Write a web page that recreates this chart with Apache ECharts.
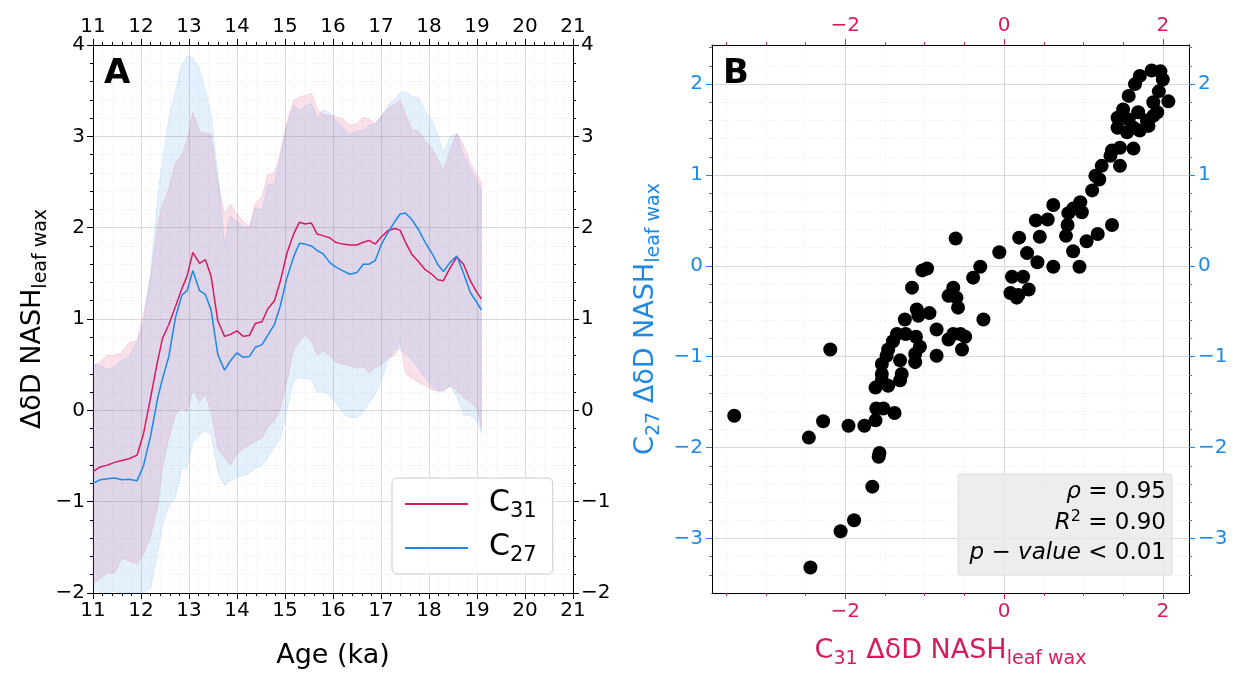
<!DOCTYPE html>
<html>
<head>
<meta charset="utf-8">
<script src="https://cdn.jsdelivr.net/npm/echarts@6/dist/echarts.min.js"></script>
<style>
html, body { margin: 0; padding: 0; background: #fff; }
#chart { width: 1245px; height: 674px; }
</style>
</head>
<body>
<div id="chart"></div>
<script>
// ---- panel A data (age in ka) ----
const ages = [11.0, 11.15, 11.3, 11.45, 11.6, 11.75, 11.92, 12.05, 12.2, 12.35, 12.45, 12.58, 12.72, 12.85, 12.96, 13.08, 13.22, 13.34, 13.46, 13.6,
  13.74, 13.86, 14.0, 14.13, 14.26, 14.38, 14.52, 14.64, 14.78, 14.9, 15.04, 15.18, 15.3, 15.42, 15.55, 15.67, 15.8, 15.93, 16.05, 16.2,
  16.35, 16.5, 16.63, 16.75, 16.88, 17.01, 17.15, 17.29, 17.4, 17.51, 17.64, 17.78, 17.92, 18.06, 18.18, 18.3, 18.44, 18.58, 18.72, 18.86,
  19.0, 19.09];
const c31Mean = [-0.67, -0.62, -0.60, -0.57, -0.55, -0.53, -0.49, -0.26, 0.14, 0.55, 0.79, 0.94, 1.14, 1.33, 1.47, 1.73, 1.61, 1.65, 1.47, 0.98,
  0.81, 0.83, 0.87, 0.81, 0.82, 0.95, 0.97, 1.11, 1.20, 1.41, 1.72, 1.93, 2.06, 2.04, 2.05, 1.93, 1.91, 1.89, 1.84, 1.82,
  1.81, 1.81, 1.84, 1.86, 1.82, 1.90, 1.97, 1.99, 1.97, 1.84, 1.71, 1.63, 1.54, 1.49, 1.43, 1.42, 1.56, 1.68, 1.60, 1.42,
  1.29, 1.22];
const c31Upper = [0.49, 0.53, 0.60, 0.60, 0.63, 0.74, 0.77, 1.05, 1.45, 2.05, 2.26, 2.42, 2.71, 2.79, 2.96, 3.26, 3.05, 3.03, 3.02, 2.50,
  2.15, 2.26, 2.15, 2.07, 2.01, 2.26, 2.34, 2.58, 2.60, 2.81, 3.16, 3.39, 3.43, 3.45, 3.47, 3.30, 3.24, 3.23, 3.22, 3.19,
  3.12, 3.14, 3.21, 3.19, 3.14, 3.22, 3.31, 3.35, 3.39, 3.24, 3.07, 3.06, 2.95, 2.87, 2.75, 2.63, 2.85, 3.03, 2.91, 2.71,
  2.58, 2.50];
const c31Lower = [-1.90, -1.84, -1.78, -1.78, -1.62, -1.65, -1.68, -1.58, -1.38, -1.05, -0.62, -0.30, -0.05, 0.03, -0.02, 0.22, 0.09, 0.18, -0.02, -0.42,
  -0.52, -0.60, -0.48, -0.42, -0.38, -0.34, -0.30, -0.19, -0.11, 0.01, 0.32, 0.67, 0.75, 0.83, 0.75, 0.61, 0.65, 0.60, 0.53, 0.51,
  0.49, 0.46, 0.48, 0.41, 0.47, 0.50, 0.57, 0.60, 0.75, 0.40, 0.35, 0.31, 0.27, 0.23, 0.21, 0.22, 0.27, 0.22, 0.14, 0.09,
  0.02, -0.19];
const c27Mean = [-0.80, -0.76, -0.75, -0.74, -0.76, -0.755, -0.77, -0.61, -0.28, 0.14, 0.35, 0.59, 1.02, 1.26, 1.31, 1.53, 1.31, 1.27, 1.10, 0.61,
  0.44, 0.54, 0.63, 0.58, 0.59, 0.69, 0.72, 0.82, 0.94, 1.14, 1.45, 1.68, 1.83, 1.82, 1.80, 1.75, 1.71, 1.62, 1.57, 1.53,
  1.49, 1.51, 1.60, 1.60, 1.64, 1.82, 1.95, 2.07, 2.15, 2.16, 2.09, 1.98, 1.84, 1.72, 1.60, 1.52, 1.62, 1.69, 1.50, 1.29,
  1.18, 1.10];
const c27Upper = [0.51, 0.49, 0.45, 0.48, 0.55, 0.59, 0.75, 0.95, 1.50, 2.35, 2.75, 3.20, 3.50, 3.78, 3.88, 3.86, 3.74, 3.51, 3.24, 2.60,
  1.82, 2.13, 2.07, 2.01, 2.00, 2.22, 2.19, 2.47, 2.48, 2.77, 3.12, 3.34, 3.29, 3.33, 3.36, 3.20, 3.29, 3.26, 3.18, 3.10,
  3.02, 3.06, 3.06, 3.12, 3.14, 3.22, 3.35, 3.41, 3.48, 3.49, 3.44, 3.42, 3.28, 3.18, 3.02, 2.82, 3.00, 3.03, 2.80, 2.65,
  2.50, 2.42];
const c27Lower = [-1.96, -1.99, -2.00, -1.98, -2.03, -2.05, -2.10, -2.15, -1.95, -1.55, -1.25, -1.05, -0.95, -0.64, -0.63, -0.35, -0.27, -0.23, -0.26, -0.67,
  -0.83, -0.77, -0.73, -0.71, -0.69, -0.63, -0.61, -0.52, -0.40, -0.32, 0.01, 0.32, 0.36, 0.35, 0.34, 0.20, 0.20, 0.16, 0.09, -0.02,
  -0.08, -0.08, -0.02, 0.08, 0.18, 0.33, 0.55, 0.66, 0.67, 0.62, 0.55, 0.46, 0.36, 0.26, 0.22, 0.20, 0.27, 0.15, -0.05, -0.06,
  -0.12, -0.25];

// ---- panel B data ----
const scatterC31 = [-3.40, -2.44, -2.06, -1.89, -1.66, -1.58, -1.57, -2.46, -2.28, -1.96, -1.76, -2.19, -1.62, -1.61, -1.52, -1.38, -1.62, -1.54, -1.46, -1.31,
  -1.29, -1.54, -1.54, -1.48, -1.46, -1.31, -1.40, -1.35, -1.24, -1.25, -1.11, -1.06, -1.12, -1.12, -1.10, -1.08, -0.94, -0.85, -0.85, -0.70,
  -0.60, -0.97, -1.03, -1.16, -0.70, -0.64, -0.58, -0.30, -0.39, -0.61, -0.06, 0.10, 0.24, 0.08, 0.18, 0.31, 0.16, -0.26, -0.64, -0.55,
  -0.49, -0.53, 0.19, 0.29, 0.42, 0.40, 0.55, 0.45, 0.62, 0.62, 0.78, 0.80, 0.81, 0.87, 0.96, 0.98, 0.87, 0.95, 1.04, 1.18,
  1.36, 1.11, 1.20, 1.15, 1.23, 1.34, 1.46, 1.46, 1.63, 1.36, 1.43, 1.43, 1.50, 1.57, 1.65, 1.71, 1.86, 1.97, 2.00, 1.95,
  2.07, 1.88, 1.69, 1.57, 1.63, 1.71, 1.82, 1.93, 1.80, 1.88, 1.55];
const scatterC27 = [-1.65, -3.32, -2.92, -2.80, -2.43, -2.10, -2.06, -1.89, -1.71, -1.76, -1.76, -0.92, -1.70, -1.57, -1.57, -1.62, -1.34, -1.26, -1.32, -1.26,
  -1.19, -1.19, -1.08, -0.99, -0.92, -1.04, -0.83, -0.75, -0.75, -0.59, -0.78, -0.89, -0.97, -1.06, -0.48, -0.55, -0.52, -0.70, -0.99, -0.81,
  -0.35, -0.03, -0.05, -0.24, -0.33, -0.24, -0.46, -0.01, -0.13, 0.30, 0.15, -0.12, -0.12, -0.30, -0.32, -0.26, -0.35, -0.59, -0.75, -0.75,
  -0.78, -0.92, 0.31, 0.14, 0.04, 0.50, 0.51, 0.32, 0.67, -0.01, 0.33, 0.45, 0.58, 0.63, 0.70, 0.59, 0.16, -0.01, 0.27, 0.35,
  0.45, 0.83, 0.95, 0.99, 1.10, 1.21, 1.30, 1.10, 1.29, 1.27, 1.52, 1.63, 1.72, 1.87, 2.00, 2.09, 2.15, 2.14, 2.05, 1.92,
  1.81, 1.80, 1.69, 1.61, 1.52, 1.49, 1.54, 1.69, 1.60, 1.65, 1.47];

// ---- tick values for panel B ----
const bMajorX = [-2, 0, 2];
const bMinorX = [-3.5, -3, -2.5, -1.5, -1, -0.5, 0.5, 1, 1.5];
const bMajorY = [-3, -2, -1, 0, 1, 2];
const bMinorY = [-3.4, -3.2, -2.8, -2.6, -2.4, -2.2, -1.8, -1.6, -1.4, -1.2, -0.8, -0.6, -0.4, -0.2,
  0.2, 0.4, 0.6, 0.8, 1.2, 1.4, 1.6, 1.8, 2.2, 2.4];

const PINK = '#d81b60';
const BLUE = '#1e88e5';
const FONT = 'DejaVu Sans';
const minus = v => (v < 0 ? '\u2212' + Math.abs(v) : String(v));

const majorGrid = { show: true, lineStyle: { color: '#dadada', width: 1 } };
const minorGrid = { show: true, lineStyle: { color: '#ebebeb', width: 1, type: [1, 2] } };
const subRich = color => ({
  a: { fontSize: 27, color: color, fontFamily: FONT, lineHeight: 30, verticalAlign: 'top' },
  s: { fontSize: 19, color: color, fontFamily: FONT, lineHeight: 20, padding: [13, 0, 0, 0], verticalAlign: 'top' }
});

function axisA(pos, opts) {
  const ax = {
    gridIndex: 0, type: 'value', position: pos,
    axisLine: { show: true, onZero: false, lineStyle: { color: '#000', width: 1 } },
    axisTick: { show: true, length: 6, lineStyle: { color: '#000' } },
    minorTick: { show: true, splitNumber: 5, length: 3, lineStyle: { color: '#000' } },
    axisLabel: { fontSize: 20, color: '#000', fontFamily: FONT, margin: 8, formatter: minus },
    splitLine: { show: false },
    minorSplitLine: { show: false }
  };
  return Object.assign(ax, opts);
}

function axisB(pos, color, min, max, ticks, major, opts) {
  const ax = {
    gridIndex: 1, type: 'value', position: pos, min: min, max: max,
    axisLine: { show: major, onZero: false, lineStyle: { color: '#000', width: 1 } },
    axisTick: { show: true, length: major ? 6 : 3, customValues: ticks, lineStyle: { color: color } },
    axisLabel: major ? { show: true, customValues: ticks, fontSize: 20, color: color, fontFamily: FONT, margin: 9, formatter: minus } : { show: false },
    splitLine: { show: false }
  };
  return Object.assign(ax, opts);
}

function bandSeries(lower, upper, color) {
  return {
    type: 'custom', xAxisIndex: 0, yAxisIndex: 0, silent: true, z: 1,
    data: ages.map((a, i) => [a, lower[i], upper[i]]),
    encode: { x: 0, y: [1, 2] },
    renderItem: function (params, api) {
      if (params.dataIndex !== 0) return null;
      const cs = params.coordSys;
      const clampY = p => [p[0], Math.min(Math.max(p[1], cs.y), cs.y + cs.height)];
      const top = ages.map((a, i) => clampY(api.coord([a, upper[i]])));
      const bottom = ages.map((a, i) => clampY(api.coord([a, lower[i]]))).reverse();
      return {
        type: 'polygon',
        shape: { points: top.concat(bottom) },
        style: { fill: color, stroke: color, lineWidth: 1 }
      };
    }
  };
}

function statLine(text, y) {
  return {
    type: 'text', x: 1166, y: y, z: 11,
    style: {
      text: text, align: 'right', verticalAlign: 'middle', fill: '#000',
      fontSize: 23, fontFamily: FONT,
      rich: {
        i: { fontStyle: 'italic', fontSize: 23, fontFamily: FONT },
        n: { fontSize: 23, fontFamily: FONT },
        p: { fontSize: 16, fontFamily: FONT, padding: [0, 0, 12, 0] }
      }
    }
  };
}

function panelLetter(letter, x) {
  return {
    type: 'text', x: x, y: 57, z: 12,
    style: {
      text: letter, fontSize: 34, fontWeight: 'bold', fill: '#000', fontFamily: FONT,
      stroke: 'none', lineWidth: 0, textBorderWidth: 0
    }
  };
}

const chart = echarts.init(document.getElementById('chart'), null, { renderer: 'canvas' });

const option = {
  animation: false,
  textStyle: { fontFamily: FONT },
  grid: [
    { left: 93, top: 45, width: 480, height: 551 },
    { left: 712, top: 45, width: 477, height: 551 }
  ],
  legend: {
    data: ['C31', 'C27'],
    orient: 'vertical',
    left: 392, top: 478,
    itemWidth: 63, itemHeight: 2, icon: 'rect',
    itemGap: 10,
    padding: [10, 16, 8, 13],
    borderColor: '#cccccc', borderWidth: 1, borderRadius: 5,
    backgroundColor: 'rgba(255,255,255,0.85)',
    formatter: name => '{a|C}{s|' + name.slice(1) + '}',
    textStyle: {
      rich: {
        a: { fontSize: 30, color: '#000', fontFamily: FONT, lineHeight: 32, verticalAlign: 'top', padding: [0, 0, 0, 16] },
        s: { fontSize: 21, color: '#000', fontFamily: FONT, lineHeight: 22, padding: [13, 0, 0, 0], verticalAlign: 'top' }
      }
    }
  },
  xAxis: [
    axisA('bottom', {
      min: 11, max: 21, interval: 1,
      splitLine: majorGrid, minorSplitLine: minorGrid,
      name: 'Age (ka)', nameLocation: 'middle', nameGap: 49,
      nameTextStyle: { fontSize: 27, color: '#000', fontFamily: FONT }
    }),
    axisA('top', { min: 11, max: 21, interval: 1 }),
    axisB('bottom', PINK, -3.68, 2.33, bMajorX, true, {
      splitLine: majorGrid,
      name: '{a|C}{s|31}{a| \u0394\u03b4D NASH}{s|leaf wax}', nameLocation: 'middle', nameGap: 44,
      nameTextStyle: { rich: subRich(PINK) }
    }),
    axisB('bottom', PINK, -3.68, 2.33, bMinorX, false, { splitLine: minorGrid }),
    axisB('top', PINK, -3.68, 2.33, bMajorX, true, {}),
    axisB('top', PINK, -3.68, 2.33, bMinorX, false, {})
  ],
  yAxis: [
    axisA('left', {
      min: -2, max: 4, interval: 1,
      splitLine: majorGrid, minorSplitLine: minorGrid,
      name: '{a|\u0394\u03b4D NASH}{s|leaf wax}', nameLocation: 'middle', nameGap: 44,
      nameTextStyle: { rich: subRich('#000') }
    }),
    axisA('right', { min: -2, max: 4, interval: 1 }),
    axisB('left', BLUE, -3.6, 2.43, bMajorY, true, {
      splitLine: majorGrid,
      name: '{a|C}{s|27}{a| \u0394\u03b4D NASH}{s|leaf wax}', nameLocation: 'middle', nameGap: 50,
      nameTextStyle: { rich: subRich(BLUE) }
    }),
    axisB('left', BLUE, -3.6, 2.43, bMinorY, false, { splitLine: minorGrid }),
    axisB('right', BLUE, -3.6, 2.43, bMajorY, true, {}),
    axisB('right', BLUE, -3.6, 2.43, bMinorY, false, {})
  ],
  series: [
    bandSeries(c31Lower, c31Upper, 'rgba(216,27,96,0.13)'),
    bandSeries(c27Lower, c27Upper, 'rgba(30,136,229,0.12)'),
    {
      name: 'C31', type: 'line', xAxisIndex: 0, yAxisIndex: 0, z: 3,
      data: ages.map((a, i) => [a, c31Mean[i]]),
      showSymbol: false, color: PINK, lineStyle: { width: 1.5, color: PINK }
    },
    {
      name: 'C27', type: 'line', xAxisIndex: 0, yAxisIndex: 0, z: 3,
      data: ages.map((a, i) => [a, c27Mean[i]]),
      showSymbol: false, color: BLUE, lineStyle: { width: 1.5, color: BLUE }
    },
    {
      name: 'scatter', type: 'scatter', xAxisIndex: 2, yAxisIndex: 2, z: 3,
      data: scatterC31.map((v, i) => [v, scatterC27[i]]),
      symbolSize: 14, itemStyle: { color: '#000', opacity: 1 }
    }
  ],
  graphic: [
    panelLetter('A', 104),
    panelLetter('B', 723),
    {
      type: 'rect', x: 958, y: 474, z: 10,
      shape: { width: 214, height: 101, r: 2 },
      style: { fill: 'rgba(232,232,232,0.8)', stroke: 'rgba(215,215,215,0.8)', lineWidth: 1 }
    },
    statLine('{i|\u03c1}{n| = 0.95}', 492),
    statLine('{i|R}{p|2}{n| = 0.90}', 523),
    statLine('{i|p} {n|\u2212} {i|value}{n| < 0.01}', 553)
  ]
};

chart.setOption(option);
</script>
</body>
</html>
